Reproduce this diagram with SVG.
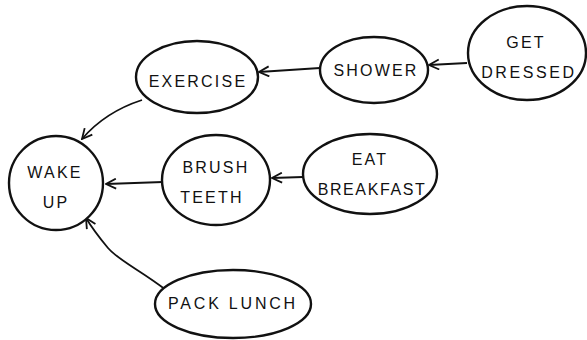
<svg xmlns="http://www.w3.org/2000/svg" width="587" height="340" viewBox="0 0 587 340">
<style>
.n{fill:#fff;stroke:#111;stroke-width:2.4}
.t{font-family:"Liberation Sans",Arial,sans-serif;font-size:16px;letter-spacing:2.2px;fill:#111;text-anchor:middle;dominant-baseline:central}
.c{fill:none;stroke:#111;stroke-width:1.8;marker-end:url(#ah)}
</style>
<defs>
<marker id="ah" viewBox="0 0 12 12" refX="11" refY="6" markerWidth="12" markerHeight="12" markerUnits="userSpaceOnUse" orient="auto">
<path d="M1,1 L11,6 L1,11" fill="none" stroke="#111" stroke-width="1.8"/>
</marker>
</defs>
<rect width="587" height="340" fill="#fff"/>
<g id="connectors">
<path class="c" d="M467,63 L429,65"/>
<path class="c" d="M320,68 L259,72"/>
<path class="c" d="M142,100 Q105,112 82,139"/>
<path class="c" d="M303,177 L272,178"/>
<path class="c" d="M163,182 L106,184"/>
<path class="c" d="M166,290 C140,270 118,260 108,248 C98,236 92,228 86,218"/>
</g>
<g id="wake-up"><ellipse class="n" cx="56" cy="183" rx="47" ry="47"/><text class="t" x="55" y="172">WAKE</text><text class="t" x="56" y="202">UP</text></g>
<g id="exercise"><ellipse class="n" cx="197" cy="77" rx="61" ry="36"/><text class="t" x="198" y="81">EXERCISE</text></g>
<g id="shower"><ellipse class="n" cx="374" cy="70" rx="54" ry="33"/><text class="t" x="376" y="70">SHOWER</text></g>
<g id="get-dressed"><ellipse class="n" cx="527" cy="53" rx="59" ry="47"/><text class="t" x="526" y="42">GET</text><text class="t" x="529" y="72" style="letter-spacing:2.6px">DRESSED</text></g>
<g id="brush-teeth"><ellipse class="n" cx="216" cy="180" rx="54" ry="45"/><text class="t" x="216" y="167">BRUSH</text><text class="t" x="212" y="197">TEETH</text></g>
<g id="eat-breakfast"><ellipse class="n" cx="370" cy="174" rx="67" ry="40"/><text class="t" x="370" y="159">EAT</text><text class="t" x="372" y="189" style="letter-spacing:1.6px">BREAKFAST</text></g>
<g id="pack-lunch"><ellipse class="n" cx="233" cy="304" rx="78" ry="34"/><text class="t" x="233" y="303" style="letter-spacing:2.8px">PACK LUNCH</text></g>
</svg>
